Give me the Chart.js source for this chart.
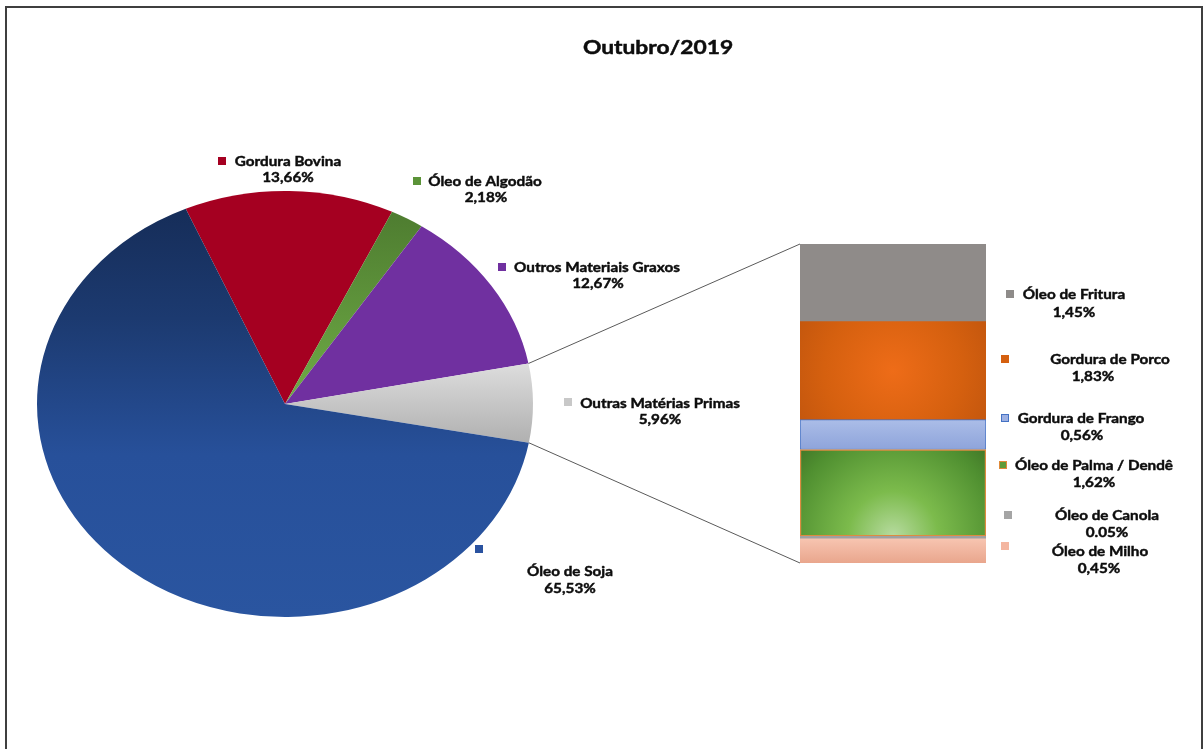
<!DOCTYPE html>
<html>
<head>
<meta charset="utf-8">
<script src="https://cdn.jsdelivr.net/npm/chart.js@4/dist/chart.umd.min.js"></script>
<style>
  html, body { margin: 0; padding: 0; background: #fff; }
  #wrap { position: relative; width: 1203px; height: 749px; overflow: hidden; background: #fff; }
  #frame { position: absolute; left: 5px; top: 6px; width: 1198px; height: 800px; border: 2px solid #3f3f3f; box-sizing: border-box; }
  canvas { position: absolute; left: 0; top: 0; }
</style>
</head>
<body>
<div id="wrap">
  <div id="frame"></div>
  <canvas id="pie" width="1203" height="749"></canvas>
  <canvas id="bar" width="1203" height="749"></canvas>
</div>
<script>
// ---- data ----
const chartTitle = 'Outubro/2019';

// main pie (percent of total)
const pieLabels = ['Gordura Bovina', 'Óleo de Algodão', 'Outros Materiais Graxos', 'Outras Matérias Primas', 'Óleo de Soja'];
const pieValues = [13.66, 2.18, 12.67, 5.96, 65.53];

// breakdown of "Outras Matérias Primas", stacked bottom to top
const barLabels = ['Óleo de Milho', 'Óleo de Canola', 'Óleo de Palma / Dendê', 'Gordura de Frango', 'Gordura de Porco', 'Óleo de Fritura'];
const barValues = [0.45, 0.05, 1.62, 0.56, 1.83, 1.45];
const barDecimalSep = [',', '.', ',', ',', ',', ','];

// ---- styling ----
const FONT = 'Lato, "Open Sans", sans-serif';
const PIE_STRETCH = 248 / 213;   // pie is drawn as a wide ellipse
const TITLE_STRETCH = 1.2;
const TEXT_STRETCH = 1.09;
const EXPLODED = 3;              // pie slice broken out into the bar

const pieKeyColors = ['#a50021', '#5b9338', '#7030a0', '#c8c8c8', '#2a52a0'];
const barKeyColors = ['#f4b6a0', '#a5a5a5', '#5e9c3a', '#9db0e2', '#d5600f', '#8e8b89'];
const barKeyBorders = [null, null, '#e08a3a', '#4472c4', null, null];
const barBorderColors = ['#e9a88f', '#a0a0a0', '#de8b40', '#4472c4', '#c4560f', '#8f8b89'];
const barBorderWidths = [0, 0, 1.5, 1, 0, 0];

// label placement: [keyX, keyY, line1X, line1Y, line2X, line2Y]
const pieLabelPos = [
  [218, 157, 288, 161, 288, 177],
  [413, 177, 485, 181, 486, 197],
  [498, 263, 597, 267, 598, 283],
  [564, 398, 660, 403, 660, 419],
  [475, 545, 570, 571, 570, 588]
];
const barLabelPos = [
  [1001, 542, 1100, 551, 1099, 568],
  [1004, 511, 1107, 515, 1107, 532],
  [999, 461, 1094, 465, 1094, 482],
  [1001, 414, 1081, 418, 1082, 435],
  [1001, 355, 1110, 359, 1093, 376],
  [1006, 290, 1074, 294, 1074, 312]
];

function pct(v, sep) { return v.toFixed(2).replace('.', sep) + '%'; }

// ---- pie fills ----
function pieFill(c) {
  const chart = c.chart, area = chart.chartArea, ctx = chart.ctx;
  const i = c.dataIndex;
  const flat = ['#a50021', '#5b9338', '#7030a0', '#c8c8c8', '#2a52a0'][i];
  if (!area) return flat;
  const cy = (area.top + area.bottom) / 2;
  if (i === 4) {
    const g = ctx.createLinearGradient(0, area.top, 0, area.bottom);
    g.addColorStop(0, '#152b55');
    g.addColorStop(0.3, '#1c3a70');
    g.addColorStop(0.62, '#27509a');
    g.addColorStop(1, '#2a55a0');
    return g;
  }
  if (i === 3) {
    const g = ctx.createLinearGradient(0, cy - 42, 0, cy + 42);
    g.addColorStop(0, '#dedede');
    g.addColorStop(1, '#aeaeae');
    return g;
  }
  if (i === 1) {
    const g = ctx.createLinearGradient(0, area.top + 20, 0, cy);
    g.addColorStop(0, '#4e7c30');
    g.addColorStop(1, '#6fac46');
    return g;
  }
  return flat;
}

// stretch the pie horizontally around its centre
const stretchPlugin = {
  id: 'stretch',
  beforeDatasetsDraw(chart) {
    const arc = chart.getDatasetMeta(0).data[0];
    const ctx = chart.ctx;
    ctx.save();
    ctx.translate(arc.x, arc.y);
    ctx.scale(PIE_STRETCH, 1);
    ctx.translate(-arc.x, -arc.y);
  },
  afterDatasetsDraw(chart) { chart.ctx.restore(); }
};

const pieChart = new Chart(document.getElementById('pie'), {
  type: 'pie',
  data: {
    labels: pieLabels,
    datasets: [{ data: pieValues, backgroundColor: pieFill, borderWidth: 0, offset: 0, hoverOffset: 0, clip: false }]
  },
  options: {
    responsive: false, animation: false, events: [],
    rotation: -23.6,
    layout: { padding: { left: 72, right: 705, top: 191, bottom: 132 } },
    plugins: { legend: { display: false }, tooltip: { enabled: false }, title: { display: false } }
  },
  plugins: [stretchPlugin]
});

// ---- bar fills ----
const barTotal = barValues.reduce((a, b) => a + b, 0);
function segmentBounds(chart, i) {
  const y = chart.scales.y;
  let base = 0;
  for (let k = 0; k < i; k++) base += barValues[k];
  return { bottom: y.getPixelForValue(base), top: y.getPixelForValue(base + barValues[i]) };
}
function barFill(i) {
  return function (c) {
    const chart = c.chart, area = chart.chartArea, ctx = chart.ctx;
    if (!area || !chart.scales.y) return barKeyColors[i];
    const s = segmentBounds(chart, i);
    const cx = (area.left + area.right) / 2;
    if (i === 0) {
      const g = ctx.createLinearGradient(0, s.top, 0, s.bottom);
      g.addColorStop(0, '#f7c4b0'); g.addColorStop(1, '#e9a68d');
      return g;
    }
    if (i === 1) return '#a0a0a0';
    if (i === 2) {
      const g = ctx.createRadialGradient(cx, s.bottom, 0, cx, s.bottom, 150);
      g.addColorStop(0, '#b7dba0'); g.addColorStop(0.3, '#7cbb4c');
      g.addColorStop(0.7, '#4f8f30'); g.addColorStop(1, '#346020');
      return g;
    }
    if (i === 3) {
      const g = ctx.createLinearGradient(0, s.top, 0, s.bottom);
      g.addColorStop(0, '#abbde8'); g.addColorStop(1, '#8ea4da');
      return g;
    }
    if (i === 4) {
      const my = (s.top + s.bottom) / 2;
      const g = ctx.createRadialGradient(cx, my, 0, cx, my, 125);
      g.addColorStop(0, '#ee6c18'); g.addColorStop(0.55, '#d5600f'); g.addColorStop(1, '#bb520d');
      return g;
    }
    return '#8f8b89';
  };
}

function drawKey(ctx, x, y, fill, border) {
  ctx.fillStyle = fill;
  ctx.fillRect(x, y, 8, 8);
  if (border) { ctx.strokeStyle = border; ctx.lineWidth = 1; ctx.strokeRect(x + 0.5, y + 0.5, 7, 7); }
}
function drawText(ctx, text, cx, cy, font, sx) {
  ctx.save();
  ctx.font = font;
  ctx.translate(cx, cy);
  ctx.scale(sx, 1);
  ctx.textAlign = 'center';
  ctx.textBaseline = 'middle';
  ctx.fillStyle = '#0d0d0d';
  ctx.strokeStyle = '#0d0d0d';
  ctx.lineWidth = 0.45;
  ctx.fillText(text, 0, 0);
  ctx.strokeText(text, 0, 0);
  ctx.restore();
}
function textWidth(ctx, text, font, sx) {
  ctx.save(); ctx.font = font; const w = ctx.measureText(text).width * sx; ctx.restore();
  return w;
}

// connector lines, title and data labels
const overlayPlugin = {
  id: 'overlay',
  afterDraw(chart) {
    const ctx = chart.ctx;
    const area = chart.chartArea;
    const y = chart.scales.y;
    const arc = pieChart.getDatasetMeta(0).data[EXPLODED];
    const r = arc.outerRadius;
    const p1 = [arc.x + PIE_STRETCH * r * Math.cos(arc.startAngle), arc.y + r * Math.sin(arc.startAngle)];
    const p2 = [arc.x + PIE_STRETCH * r * Math.cos(arc.endAngle), arc.y + r * Math.sin(arc.endAngle)];
    ctx.save();
    ctx.strokeStyle = '#5a5a5a';
    ctx.lineWidth = 1;
    ctx.beginPath();
    ctx.moveTo(p1[0], p1[1]); ctx.lineTo(area.left, y.getPixelForValue(barTotal));
    ctx.moveTo(p2[0], p2[1]); ctx.lineTo(area.left, y.getPixelForValue(0));
    ctx.stroke();
    ctx.restore();

    drawText(ctx, chartTitle, 658, 48, 'bold 19px ' + FONT, TITLE_STRETCH);

    const lf = 'bold 14px ' + FONT;
    pieLabels.forEach((name, i) => {
      const p = pieLabelPos[i];
      drawKey(ctx, p[0], p[1], pieKeyColors[i], null);
      drawText(ctx, name, p[2], p[3], lf, TEXT_STRETCH);
      drawText(ctx, pct(pieValues[i], ','), p[4], p[5], lf, TEXT_STRETCH);
    });
    // bar labels sit on white boxes, the later ones on top
    barLabels.forEach((name, i) => {
      const p = barLabelPos[i];
      const val = pct(barValues[i], barDecimalSep[i]);
      const right = Math.max(p[2] + textWidth(ctx, name, lf, TEXT_STRETCH) / 2, p[4] + textWidth(ctx, val, lf, TEXT_STRETCH) / 2);
      ctx.fillStyle = '#fff';
      ctx.fillRect(p[0] - 2, p[3] - 16, right - p[0] + 4, p[5] - p[3] + 25);
      drawKey(ctx, p[0], p[1], barKeyColors[i], barKeyBorders[i]);
      drawText(ctx, name, p[2], p[3], lf, TEXT_STRETCH);
      drawText(ctx, val, p[4], p[5], lf, TEXT_STRETCH);
    });
  }
};

const barChart = new Chart(document.getElementById('bar'), {
  type: 'bar',
  data: {
    labels: [''],
    datasets: barLabels.map((name, i) => ({
      label: name,
      data: [barValues[i]],
      backgroundColor: barFill(i),
      borderColor: barBorderColors[i],
      borderWidth: barBorderWidths[i],
      borderSkipped: false,
      barPercentage: 1,
      categoryPercentage: 1
    }))
  },
  options: {
    responsive: false, animation: false, events: [],
    layout: { padding: { left: 800, right: 217, top: 244, bottom: 186 } },
    scales: {
      x: { stacked: true, display: false },
      y: { stacked: true, display: false, min: 0, max: barTotal }
    },
    plugins: { legend: { display: false }, tooltip: { enabled: false } }
  },
  plugins: [overlayPlugin]
});
</script>
</body>
</html>
